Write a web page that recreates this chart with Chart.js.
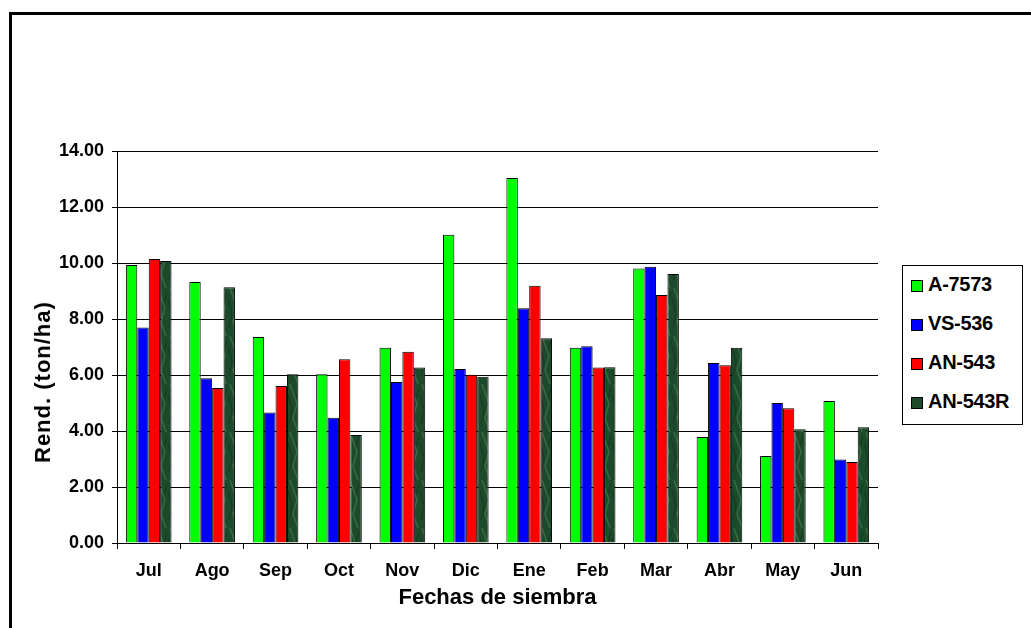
<!DOCTYPE html>
<html>
<head>
<meta charset="utf-8">
<script src="https://cdn.jsdelivr.net/npm/chart.js@4.4.1/dist/chart.umd.min.js"></script>
<style>
  html, body { margin: 0; padding: 0; background: #fff; overflow: hidden; }
  body { width: 1031px; height: 628px; position: relative; font-family: "Liberation Sans", Arial, sans-serif; }
  #frame { position: absolute; left: 9px; top: 12px; width: 1100px; height: 700px; border-left: 3px solid #000; border-top: 3px solid #000; }
  #c { position: absolute; left: 0; top: 0; }
  #ytitle { position: absolute; left: 43px; top: 382px; transform: translate(-50%, -50%) rotate(-90deg); font-weight: bold; font-size: 22px; letter-spacing: 1px; white-space: nowrap; color: #000; }
  #legend { position: absolute; left: 902px; top: 265px; width: 119px; height: 158px; border: 1px solid #000; background: #fff; box-sizing: content-box; }
  .item { position: absolute; left: 8px; font-weight: bold; font-size: 20px; letter-spacing: -0.3px; color: #000; white-space: nowrap; }
  .item span.sw { display: inline-block; width: 10px; height: 10px; border: 1px solid #000; margin-right: 5px; vertical-align: -1px; }
</style>
</head>
<body>
<div id="frame"></div>
<canvas id="c" width="1031" height="628"></canvas>
<div id="ytitle">Rend. (ton/ha)</div>
<div id="legend"></div>
<script>
const meses = ['Jul', 'Ago', 'Sep', 'Oct', 'Nov', 'Dic', 'Ene', 'Feb', 'Mar', 'Abr', 'May', 'Jun'];
const variedades = ['A-7573', 'VS-536', 'AN-543', 'AN-543R'];

const a7573  = [9.93, 9.32, 7.36, 6.03, 6.97, 11.01, 13.04, 6.97, 9.80, 3.79, 3.11, 5.07];
const vs536  = [7.70, 5.88, 4.66, 4.47, 5.75, 6.21, 8.38, 7.03, 9.87, 6.43, 5.00, 2.98];
const an543  = [10.14, 5.54, 5.61, 6.56, 6.83, 6.01, 9.19, 6.27, 8.86, 6.35, 4.81, 2.89];
const an543r = [10.07, 9.13, 6.03, 3.86, 6.27, 5.94, 7.31, 6.28, 9.61, 6.97, 4.06, 4.13];

const yTicks = [0, 2, 4, 6, 8, 10, 12, 14];

// textura verde oscuro (tipo marmol) para AN-543R
function marmol() {
  const p = document.createElement('canvas');
  p.width = 12; p.height = 48;
  const g = p.getContext('2d');
  g.fillStyle = '#1d4a2a';
  g.fillRect(0, 0, 12, 48);
  g.strokeStyle = 'rgba(110,165,120,0.35)';
  g.lineWidth = 1.5;
  g.beginPath(); g.moveTo(2, 0); g.lineTo(9, 20); g.lineTo(5, 34); g.lineTo(10, 48); g.stroke();
  g.strokeStyle = 'rgba(10,40,20,0.5)';
  g.lineWidth = 1;
  g.beginPath(); g.moveTo(0, 10); g.lineTo(4, 26); g.lineTo(1, 40); g.stroke();
  g.beginPath(); g.moveTo(11, 4); g.lineTo(8, 14); g.stroke();
  return g.createPattern(p, 'repeat');
}

const colores = ['#00ff00', '#0000ff', '#ff0000', marmol()];
const series = [a7573, vs536, an543, an543r];

const ctx = document.getElementById('c').getContext('2d');
const chart = new Chart(ctx, {
  type: 'bar',
  data: {
    labels: meses,
    datasets: series.map((d, i) => ({
      label: variedades[i],
      data: d,
      backgroundColor: colores[i],
      borderColor: '#000',
      borderWidth: 1,
      categoryPercentage: 0.72,
      barPercentage: 1.0
    }))
  },
  options: {
    responsive: false,
    devicePixelRatio: 1,
    animation: false,
    layout: { padding: { top: 151, right: 153, left: 0, bottom: 0 } },
    plugins: { legend: { display: false }, tooltip: { enabled: false } },
    scales: {
      y: {
        min: 0, max: 14,
        afterFit: s => { s.width = 117; },
        afterBuildTicks: s => { s.ticks = yTicks.map(v => ({ value: v })); },
        ticks: {
          color: '#000',
          padding: 8,
          font: { family: 'Liberation Sans', weight: 'bold', size: 18 },
          callback: v => v.toFixed(2)
        },
        grid: { color: '#000', lineWidth: 1, tickLength: 5 },
        border: { color: '#000', width: 1 }
      },
      x: {
        afterFit: s => { s.height = 85; },
        ticks: {
          color: '#000',
          padding: 11,
          font: { family: 'Liberation Sans', weight: 'bold', size: 18 }
        },
        grid: { drawOnChartArea: false, drawTicks: true, tickLength: 6, color: '#000', offset: true },
        border: { color: '#000', width: 1 },
        title: {
          display: true,
          text: 'Fechas de siembra',
          color: '#000',
          font: { family: 'Liberation Sans', weight: 'bold', size: 22 },
          padding: { top: 0, bottom: 17 }
        }
      }
    }
  }
});

// leyenda en HTML con recuadro
const leg = document.getElementById('legend');
const swatch = ['#00ff00', '#0000ff', '#ff0000', '#1d4a2a'];
variedades.forEach((v, i) => {
  const d = document.createElement('div');
  d.className = 'item';
  d.style.top = (7 + i * 39) + 'px';
  d.innerHTML = '<span class="sw" style="background:' + swatch[i] + '"></span>' + v;
  leg.appendChild(d);
});
</script>
</body>
</html>
